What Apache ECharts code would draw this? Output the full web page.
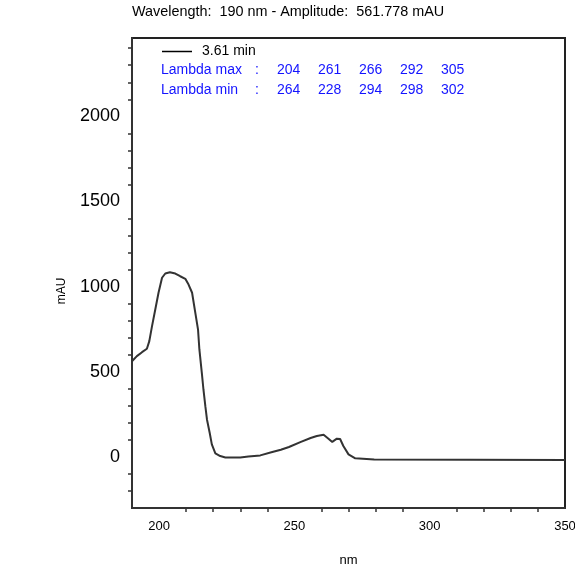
<!DOCTYPE html>
<html>
<head>
<meta charset="utf-8">
<script src="https://cdn.jsdelivr.net/npm/echarts@6/dist/echarts.min.js"></script>
<style>
html,body{margin:0;padding:0;background:#fff;}
#chart{width:575px;height:567px;}
</style>
</head>
<body>
<div id="chart"></div>
<script>
// Wavelength (nm) and amplitude (mAU)
const wavelengths = [190, 191.8, 193.7, 195.5, 196.4, 197.4, 198.6, 199.8, 201.1, 202.3, 204, 206, 207.8, 209.7, 210.9, 212.2, 213.4, 214.4, 214.9, 215.8, 216.4, 217.1, 217.7, 218.7, 219.5, 220.8, 222.6, 224.5, 230, 233, 237.4, 241.5, 245, 248, 252.2, 256, 258.3, 260.8, 262.6, 264, 265.7, 266.9, 268.1, 270, 272.5, 279.5, 350];
const amplitudes  = [562, 592, 615, 635, 680, 768, 866, 964, 1052, 1077, 1084, 1077, 1061, 1046, 1012, 964, 846, 748, 631, 494, 396, 298, 220, 142, 74, 21, 5, -3, -3, 2, 9, 27, 42, 58, 87, 111, 123, 130, 107, 88, 107, 105, 64, 15, -8, -15, -18];

const xTickValues = [210, 220, 230, 240, 260, 270, 280, 290, 310, 320, 330, 340];
const xLabelValues = [200, 250, 300, 350];
const yTickValues = [-200, -100, 100, 200, 300, 400, 600, 700, 800, 900, 1100, 1200, 1300, 1400, 1600, 1700, 1800, 1900, 2100, 2200, 2300, 2400];
const yLabelValues = [0, 500, 1000, 1500, 2000];

const titleText = 'Wavelength:  190 nm - Amplitude:  561.778 mAU';
const legendName = '3.61 min';
const lambdaMax = [204, 261, 266, 292, 305];
const lambdaMin = [264, 228, 294, 298, 302];

const chart = echarts.init(document.getElementById('chart'), null, {renderer: 'canvas'});

const lineColor = '#333333';
const blue = '#1414ff';
const font = 'Arial, "Liberation Sans", sans-serif';

const maxX = [277, 318, 359, 400, 441];
const graphics = [
  {type: 'text', left: 132, top: 5, style: {text: titleText, font: '14.4px ' + font, fill: '#000'}},
  {type: 'line', shape: {x1: 162, y1: 51.5, x2: 192, y2: 51.5}, style: {stroke: '#000', lineWidth: 1.5}},
  {type: 'text', x: 202, y: 51.5, style: {text: legendName, font: '14px ' + font, fill: '#000', verticalAlign: 'middle'}},
  {type: 'text', x: 161, y: 70, style: {text: 'Lambda max', font: '14px ' + font, fill: blue, verticalAlign: 'middle'}},
  {type: 'text', x: 255, y: 70, style: {text: ':', font: '14px ' + font, fill: blue, verticalAlign: 'middle'}},
  {type: 'text', x: 161, y: 90, style: {text: 'Lambda min', font: '14px ' + font, fill: blue, verticalAlign: 'middle'}},
  {type: 'text', x: 255, y: 90, style: {text: ':', font: '14px ' + font, fill: blue, verticalAlign: 'middle'}},
  {type: 'text', x: 62, y: 291, rotation: Math.PI / 2, style: {text: 'mAU', font: '12px ' + font, fill: '#000', align: 'center', verticalAlign: 'middle'}}
];
lambdaMax.forEach((v, i) => graphics.push({type: 'text', x: maxX[i], y: 70, style: {text: String(v), font: '14px ' + font, fill: blue, verticalAlign: 'middle'}}));
lambdaMin.forEach((v, i) => graphics.push({type: 'text', x: maxX[i], y: 90, style: {text: String(v), font: '14px ' + font, fill: blue, verticalAlign: 'middle'}}));

const option = {
  animation: false,
  backgroundColor: '#fff',
  grid: {left: 132, right: 10, top: 38, bottom: 59, show: true, borderColor: '#222', borderWidth: 2, containLabel: false, outerBoundsMode: 'none'},
  xAxis: {
    type: 'value', min: 190, max: 350,
    name: 'nm', nameLocation: 'middle', nameGap: 46,
    nameTextStyle: {fontFamily: font, fontSize: 13, color: '#000'},
    axisLine: {show: true, onZero: false, lineStyle: {color: '#333', width: 2}},
    axisTick: {show: true, length: 4, customValues: xTickValues, lineStyle: {color: '#333', width: 1.5}},
    axisLabel: {customValues: xLabelValues, margin: 12, fontFamily: font, fontSize: 13, color: '#000', formatter: v => String(v)},
    splitLine: {show: false}
  },
  yAxis: {
    type: 'value', min: -300, max: 2460,
    axisLine: {show: true, onZero: false, lineStyle: {color: '#333', width: 2}},
    axisTick: {show: true, length: 4, customValues: yTickValues, lineStyle: {color: '#333', width: 1.5}},
    axisLabel: {customValues: yLabelValues, margin: 12, fontFamily: font, fontSize: 18, color: '#000', formatter: v => String(v)},
    splitLine: {show: false}
  },
  series: [{
    type: 'line',
    data: wavelengths.map((w, i) => [w, amplitudes[i]]),
    showSymbol: false,
    symbol: 'none',
    lineStyle: {color: lineColor, width: 2},
    clip: true
  }],
  graphic: graphics
};
chart.setOption(option);
</script>
</body>
</html>
